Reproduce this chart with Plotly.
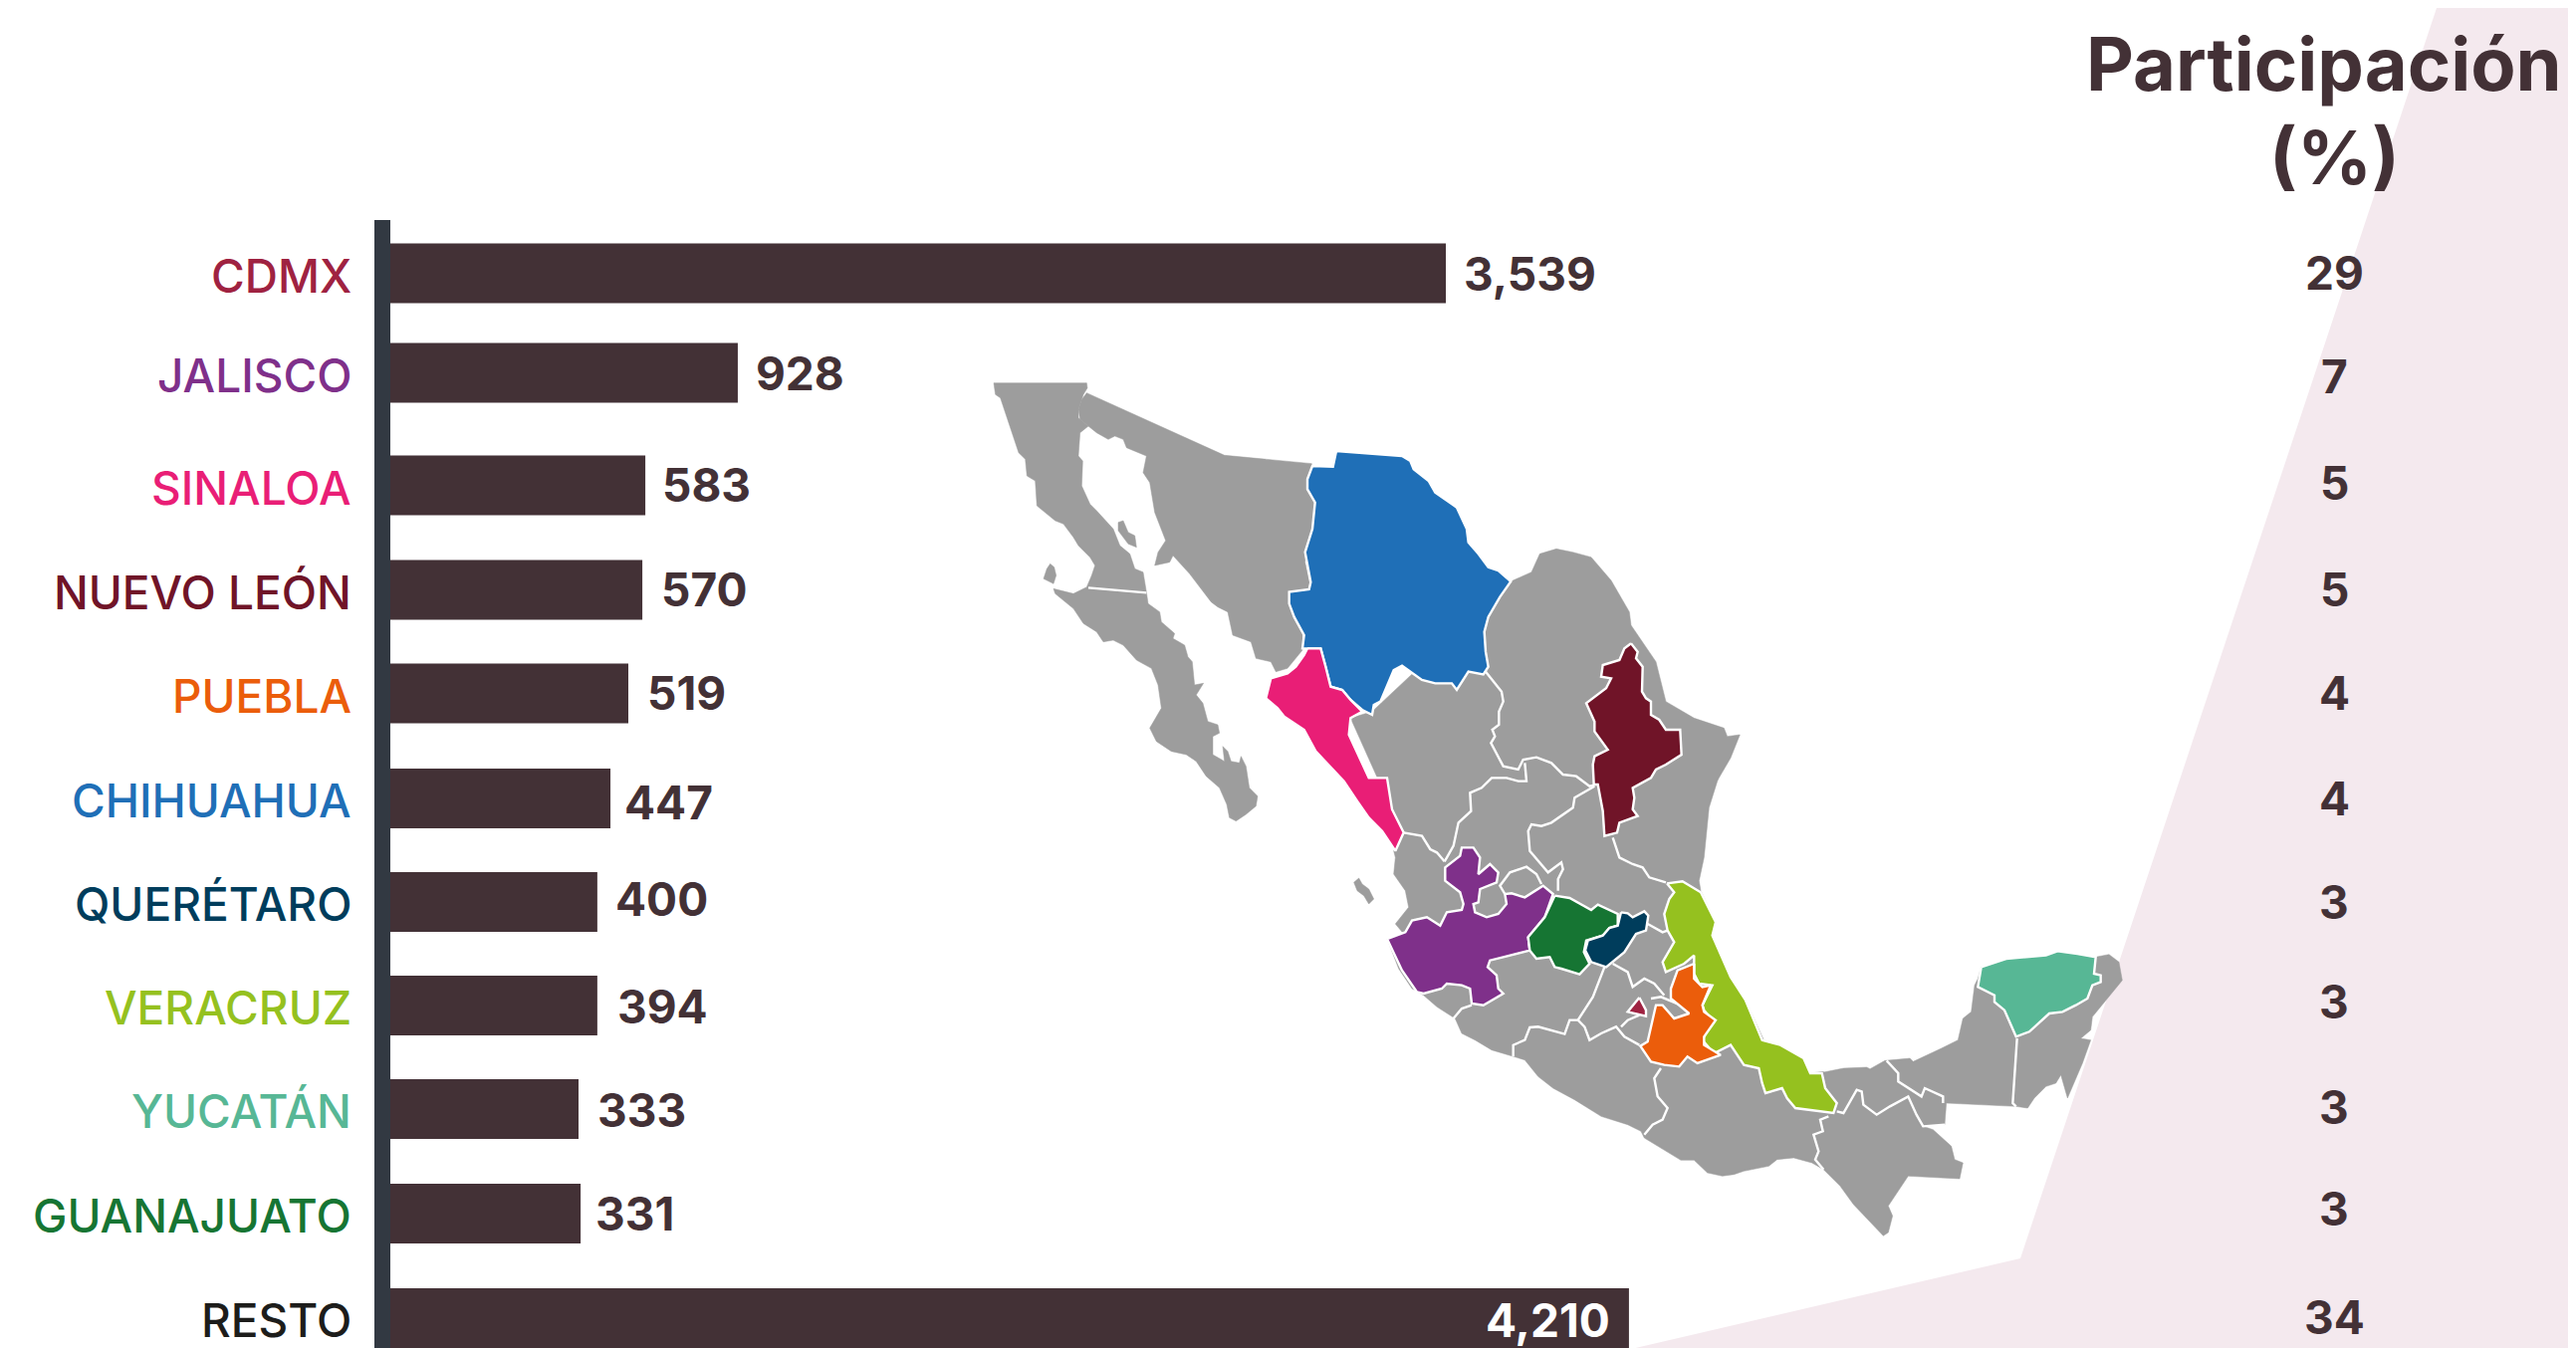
import plotly.graph_objects as go

W, H = 2587, 1354

# ---------- data ----------
categories = ["CDMX", "JALISCO", "SINALOA", "NUEVO LEÓN", "PUEBLA", "CHIHUAHUA",
              "QUERÉTARO", "VERACRUZ", "YUCATÁN", "GUANAJUATO", "RESTO"]
value_labels = ["3,539", "928", "583", "570", "519", "447", "400", "394", "333", "331", "4,210"]
# The bars in the source are not proportional to their printed labels: lengths as drawn, in CDMX units
bar_lengths = [3539, 1165, 855, 845, 798, 738, 694, 694, 631, 638, 4153]
participation = ["29", "7", "5", "5", "4", "4", "3", "3", "3", "3", "34"]
label_colors = ["#9F2241", "#7F308A", "#E91E76", "#701428", "#EB5D0B", "#1F6FB7",
                "#003D5C", "#95C11F", "#57B795", "#167533", "#1D1D1B"]

# layout of the rows (page pixels)
row_y = [266.5, 366.5, 479.5, 584.5, 688.5, 794, 898, 1002, 1106, 1211, 1316]
value_left = [1460, 749, 655, 654, 640, 617, 608, 610, 590, 588, None]
value_y = [267, 367, 479, 584, 688, 798, 895, 1003, 1107, 1211, 1318]
pct_y = [266, 370, 477, 584, 688, 794, 898, 998, 1104, 1206, 1315]

BAR = "#433136"; AXIS = "#323942"; GREY = "#9D9D9D"; PINK = "#F4E9EE"
FONT = "Inter"
BASE_PX, PX_PER_UNIT = 384, (1444 - 384) / 3539


def tile(ox, oy, pts):
    return [(ox + x / 3, oy + y / 3) for x, y in pts]
def z6(p): return tile(980, 370, p)
def z7(p): return tile(1260, 430, p)
def z8(p): return tile(1360, 820, p)
def z9(p): return tile(1680, 920, p)

# ---------- map outlines ----------
baja = z6([(30,20),(310,20),(312,35),(300,55),(285,100),(285,125),(315,150),(290,170),(285,240),(298,255),(295,330),(320,385),(340,405),(390,460),(410,510),(440,535),(455,580),(480,590),(490,650),(495,685),(530,710),(535,740),(575,775),(570,790),(605,810),(615,845),(628,860),(635,930),(662,925),(640,960),(660,985),(675,1040),(705,1050),(710,1075),(690,1085),(690,1140),(725,1160),(720,1115),(735,1130),(745,1160),(770,1165),(775,1145),(790,1175),(800,1240),(825,1265),(820,1295),(790,1320),(760,1340),(740,1330),(732,1290),(710,1240),(670,1205),(640,1160),(610,1140),(565,1130),(520,1100),(500,1060),(535,1000),(525,930),(505,880),(460,855),(420,810),(390,795),(360,800),(340,770),(300,745),(270,700),(215,655),(210,640),(270,655),(310,635),(325,600),(335,570),(320,545),(285,510),(270,485),(240,445),(215,435),(160,390),(155,315),(130,300),(125,250),(105,230),(70,125),(50,65),(35,55)])
cedros = z6([(200,565),(212,575),(218,600),(210,625),(180,610),(190,580)])
angel = z6([(405,440),(420,435),(435,470),(455,480),(460,515),(435,505),(405,465)])
marias = z7([(275,1345),(290,1332),(300,1350),(320,1365),(335,1395),(320,1410),(305,1385),(285,1370)])
sonora = z6([(310,50),(725,238),(988,263),(990,290),(975,320),(980,350),(998,380),(995,450),(975,500),(968,560),(985,640),(920,650),(920,685),(935,730),(960,775),(960,825),(915,880),(880,890),(865,860),(820,850),(805,800),(750,780),(735,710),(705,695),(685,680),(620,595),(570,540),(560,560),(515,570),(525,530),(548,495),(515,410),(500,320),(480,290),(490,240),(430,215),(420,190),(395,180),(375,190),(340,170),(315,150),(290,130),(285,100),(295,70)])
mainland = (
    z7([(748,438),(810,410),(835,355),(885,340),(935,350),(990,365),(1050,435),(1105,530),(1110,570),(1150,630),(1185,680),(1215,800),(1240,815),(1300,850),(1390,880),(1400,905),(1438,900),(1410,970),(1375,1030),(1370,1040),(1345,1120),(1330,1270),(1315,1340)])
    + z8([(1020,200),(1065,295),(1055,335),(1110,460),(1155,530),(1210,650),(1260,665),(1330,705),(1350,750),(1390,745)])
    + z9([(430,447),(490,435),(560,432),(570,437),(615,412),(690,405),(700,415),(785,375),(835,350),(850,285),(875,265),(885,185),(895,165),(905,130),(980,105),(1100,95),(1135,82),(1195,90),(1250,100),(1290,92),(1320,115),(1330,170),(1290,220),(1240,280),(1235,320),(1205,345),(1235,350),(1210,420),(1165,525),(1145,455),(1130,480),(1100,490),(1065,525),(1045,555),(1010,550),(800,540),(795,605),(730,610),(760,620),(815,670),(825,710),(850,720),(840,768),(685,760),(625,850),(638,880),(625,930),(610,940),(520,845),(480,790),(430,740),(395,720),(340,705),(290,710),(265,730),(190,745),(160,755),(125,760),(80,750),(40,712),(0,712)])
    + z8([(925,990),(850,945),(840,925),(800,905),(720,880),(640,830),(575,795),(530,760),(490,710),(455,700),(390,680),(340,650),(300,630),(280,585),(225,550),(185,515),(150,495),(110,435),(85,370),(75,345),(125,330),(100,300),(140,250),(130,200),(95,150),(100,100),(95,80)])
    + z7([(420,1195),(265,850),(330,830)])
)

states = {
    "Chihuahua": ("#1F6FB7", z7([(222,45),(420,60),(445,75),(455,100),(500,135),(520,170),(585,215),(615,280),(620,320),(650,355),(680,395),(710,405),(748,438),(715,485),(680,545),(668,590),(672,650),(680,695),(665,718),(620,710),(585,765),(570,745),(520,745),(480,735),(420,692),(395,705),(355,800),(335,810),(330,840),(300,825),(265,795),(240,765),(205,755),(190,695),(175,640),(135,640),(120,640),(125,600),(95,545),(80,505),(80,470),(140,462),(145,440),(128,350),(150,280),(158,200),(135,160),(135,130),(150,90),(212,92)])),
    "Sinaloa": ("#E91E76", z7([(135,640),(175,640),(190,695),(205,755),(240,765),(265,795),(300,830),(265,850),(260,900),(320,1030),(375,1030),(390,1125),(425,1195),(400,1250),(360,1190),(320,1150),(285,1100),(245,1040),(160,950),(125,885),(65,845),(45,820),(10,790),(25,730),(75,715),(100,695),(125,660)])),
    "Nuevo León": ("#701428", z7([(1110,625),(1130,650),(1125,670),(1145,695),(1143,770),(1155,790),(1170,800),(1170,840),(1195,855),(1215,885),(1258,885),(1262,960),(1215,990),(1185,1005),(1170,1030),(1115,1060),(1120,1090),(1115,1125),(1130,1145),(1075,1165),(1068,1195),(1030,1205),(1025,1130),(1010,1050),(998,1050),(995,990),(1000,965),(1040,945),(1000,890),(1000,860),(975,805),(1035,760),(1050,730),(1020,725),(1025,690),(1075,675),(1090,640)])),
    "Jalisco": ("#7F308A", z8([(75,345),(130,325),(150,290),(195,280),(235,305),(255,265),(300,258),(305,240),(295,205),(250,170),(250,130),(295,95),(300,70),(335,70),(355,100),(350,150),(385,120),(410,145),(405,175),(355,195),(350,235),(335,240),(340,265),(375,280),(410,270),(435,240),(430,210),(450,208),(490,220),(545,185),(575,210),(550,280),(500,340),(505,380),(425,400),(385,410),(378,430),(405,455),(410,495),(425,510),(365,545),(330,540),(325,495),(300,485),(255,480),(240,495),(185,510),(165,505),(120,440),(90,375)])),
    "Guanajuato": ("#167533", z8([(580,215),(625,222),(690,258),(710,242),(770,270),(770,305),(745,312),(725,335),(675,350),(668,385),(685,420),(655,452),(600,435),(580,430),(565,400),(525,405),(505,380),(500,340),(550,280)])),
    "Querétaro": ("#003D5C", z8([(780,265),(800,268),(815,280),(850,262),(862,275),(855,320),(825,330),(790,385),(735,430),(690,415),(672,380),(680,350),(725,335),(745,312),(770,305)])),
    "Veracruz": ("#95C11F", z8([(918,178),(965,172),(1020,205),(1065,295),(1055,335),(1110,460),(1155,530),(1205,650),(1260,665),(1330,705),(1350,750),(1385,750),(1395,795),(1430,840),(1420,870),(1305,855),(1280,825),(1265,795),(1215,810),(1205,780),(1195,735),(1150,725),(1110,665),(1060,690),(1025,650),(1055,590),(1030,560),(1025,545),(1055,485),(1015,480),(1000,450),(1000,395),(970,420),(915,445),(905,415),(940,355),(920,320),(910,270),(925,225),(940,205)])),
    "Puebla": ("#EB5D0B", z8([(1000,420),(1000,465),(1025,490),(1050,485),(1025,545),(1030,565),(1065,590),(1030,640),(1030,665),(1080,695),(1010,720),(980,700),(955,730),(910,725),(870,715),(838,668),(860,655),(875,590),(885,545),(905,545),(940,585),(985,570),(930,525),(930,495),(950,440)])),
    "CDMX": ("#9F2241", z8([(835,522),(855,560),(855,578),(800,565)])),
    "Yucatán": ("#57B795", z9([(905,130),(980,105),(1100,95),(1135,82),(1195,90),(1250,100),(1245,150),(1265,155),(1265,175),(1240,185),(1225,225),(1190,245),(1150,265),(1110,270),(1050,325),(1010,340),(975,260),(945,235),(945,215),(895,190)])),
}

borders = [
    z6([(315,637),(490,652)]),
    z7([(668,705),(720,770),(725,800),(712,830),(712,870),(692,885),(700,905),(688,925),(725,995),(770,1005),(785,975),(825,968),(870,985),(905,1020),(945,1025),(985,1055),(1000,1052)]),
    z7([(425,1195),(480,1205),(505,1245),(525,1255),(548,1282)]),
    z7([(790,985),(795,1040),(770,1040),(735,1030),(690,1030),(660,1060),(625,1075),(628,1130),(590,1165),(575,1235),(555,1270),(548,1282)]),
    z7([(1000,1055),(940,1090),(935,1120),(870,1165),(840,1175),(810,1170),(800,1190),(805,1250),(860,1315),(900,1285),(905,1305),(890,1335),(890,1370)]),
    z7([(1055,1210),(1075,1270),(1115,1290),(1145,1300),(1165,1330),(1215,1345)]),
    z8([(430,210),(415,185),(445,145),(495,128),(525,150),(540,180)]),
    z8([(275,585),(300,555),(330,545)]),
    z8([(455,700),(455,665),(490,650),(505,612),(530,610),(610,632),(625,590),(650,590)]),
    z8([(730,430),(695,520),(650,590),(670,610),(685,650),(720,630),(765,610),(790,640),(835,665)]),
    z8([(780,610),(800,590),(835,575)]),
    z8([(755,420),(800,445),(815,490),(850,465),(880,480),(910,515)]),
    z8([(870,525),(900,520),(960,545),(985,570)]),
    z8([(860,300),(905,325),(920,320)]),
    z8([(900,735),(880,765),(890,820),(920,855),(905,890),(875,905),(850,935)]),
    z9([(445,580),(420,590),(428,625),(400,635),(415,685),(405,710),(430,740)]),
    z9([(470,565),(490,570),(530,500),(545,505),(550,545),(590,575),(630,550),(685,520),(710,575),(730,610),(795,605)]),
    z9([(620,412),(655,450),(655,475),(725,520),(735,495),(790,520),(790,540)]),
    z9([(1013,345),(1003,520),(1000,540),(1010,550)]),
]

fig = go.Figure()

# bars, through the value axis
fig.add_trace(go.Bar(x=bar_lengths, y=row_y, orientation="h", width=60, base=0,
                     marker=dict(color=BAR, line=dict(width=0)), showlegend=False,
                     hoverinfo="skip", xaxis="x", yaxis="y"))


def poly(pts, color, line_w=0):
    xs, ys = zip(*(list(pts) + [pts[0]]))
    fig.add_trace(go.Scatter(x=xs, y=ys, mode="lines", fill="toself", fillcolor=color,
                             line=dict(color="#FFFFFF" if line_w else color, width=line_w or 0.5),
                             showlegend=False, hoverinfo="skip", xaxis="x2", yaxis="y"))


for shape in (baja, cedros, angel, marias, sonora, mainland):
    poly(shape, GREY)
for b in borders:
    xs, ys = zip(*b)
    fig.add_trace(go.Scatter(x=xs, y=ys, mode="lines", line=dict(color="#FFFFFF", width=2.4),
                             showlegend=False, hoverinfo="skip", xaxis="x2", yaxis="y"))
for color, pts in states.values():
    poly(pts, color, 2.4)

ann = []
for cat, col, y in zip(categories, label_colors, row_y):
    ann.append(dict(x=347, y=y + 2, text=cat, xref="x2", yref="y", xanchor="right", yanchor="middle",
                    showarrow=False, font=dict(family=FONT, size=46, color=col, weight=500)))
for txt, left, y in zip(value_labels, value_left, value_y):
    if left is None:
        ann.append(dict(x=1611, y=y, text=txt, xref="x2", yref="y", xanchor="right", yanchor="middle",
                        showarrow=False, font=dict(family=FONT, size=46, color="#FFFFFF", weight=700)))
    else:
        ann.append(dict(x=left, y=y, text=txt, xref="x2", yref="y", xanchor="left", yanchor="middle",
                        showarrow=False, font=dict(family=FONT, size=46, color=BAR, weight=700)))
for txt, y in zip(participation, pct_y):
    ann.append(dict(x=2336, y=y, text=txt, xref="x2", yref="y", xanchor="center", yanchor="middle",
                    showarrow=False, font=dict(family=FONT, size=46, color=BAR, weight=700)))
ann.append(dict(x=2326, y=56, text="Participación", xref="x2", yref="y", xanchor="center", yanchor="middle",
                showarrow=False, font=dict(family=FONT, size=74, color=BAR, weight=700)))
ann.append(dict(x=2336, y=150, text="(%)", xref="x2", yref="y", xanchor="center", yanchor="middle",
                showarrow=False, font=dict(family=FONT, size=74, color=BAR, weight=700)))

shapes = [
    dict(type="path", path="M 2439 0 L 2021 1256 L 1600 1354 L 2587 1354 L 2587 0 Z",
         xref="x2", yref="y", fillcolor=PINK, line=dict(width=0), layer="below"),
    dict(type="rect", x0=368, x1=384, y0=213, y1=H, xref="x2", yref="y",
         fillcolor=AXIS, line=dict(width=0), layer="above"),
]

fig.update_layout(
    width=W, height=H, autosize=False,
    margin=dict(l=0, r=0, t=0, b=0, pad=0),
    paper_bgcolor="#FFFFFF", plot_bgcolor="#FFFFFF",
    showlegend=False, annotations=ann, shapes=shapes,
    xaxis=dict(range=[-BASE_PX / PX_PER_UNIT, (W - BASE_PX) / PX_PER_UNIT], visible=False, fixedrange=True),
    xaxis2=dict(range=[0, W], overlaying="x", visible=False, fixedrange=True),
    yaxis=dict(range=[H, 0], visible=False, fixedrange=True),
)
fig.write_html("out.html", config={"displayModeBar": False, "responsive": False})
